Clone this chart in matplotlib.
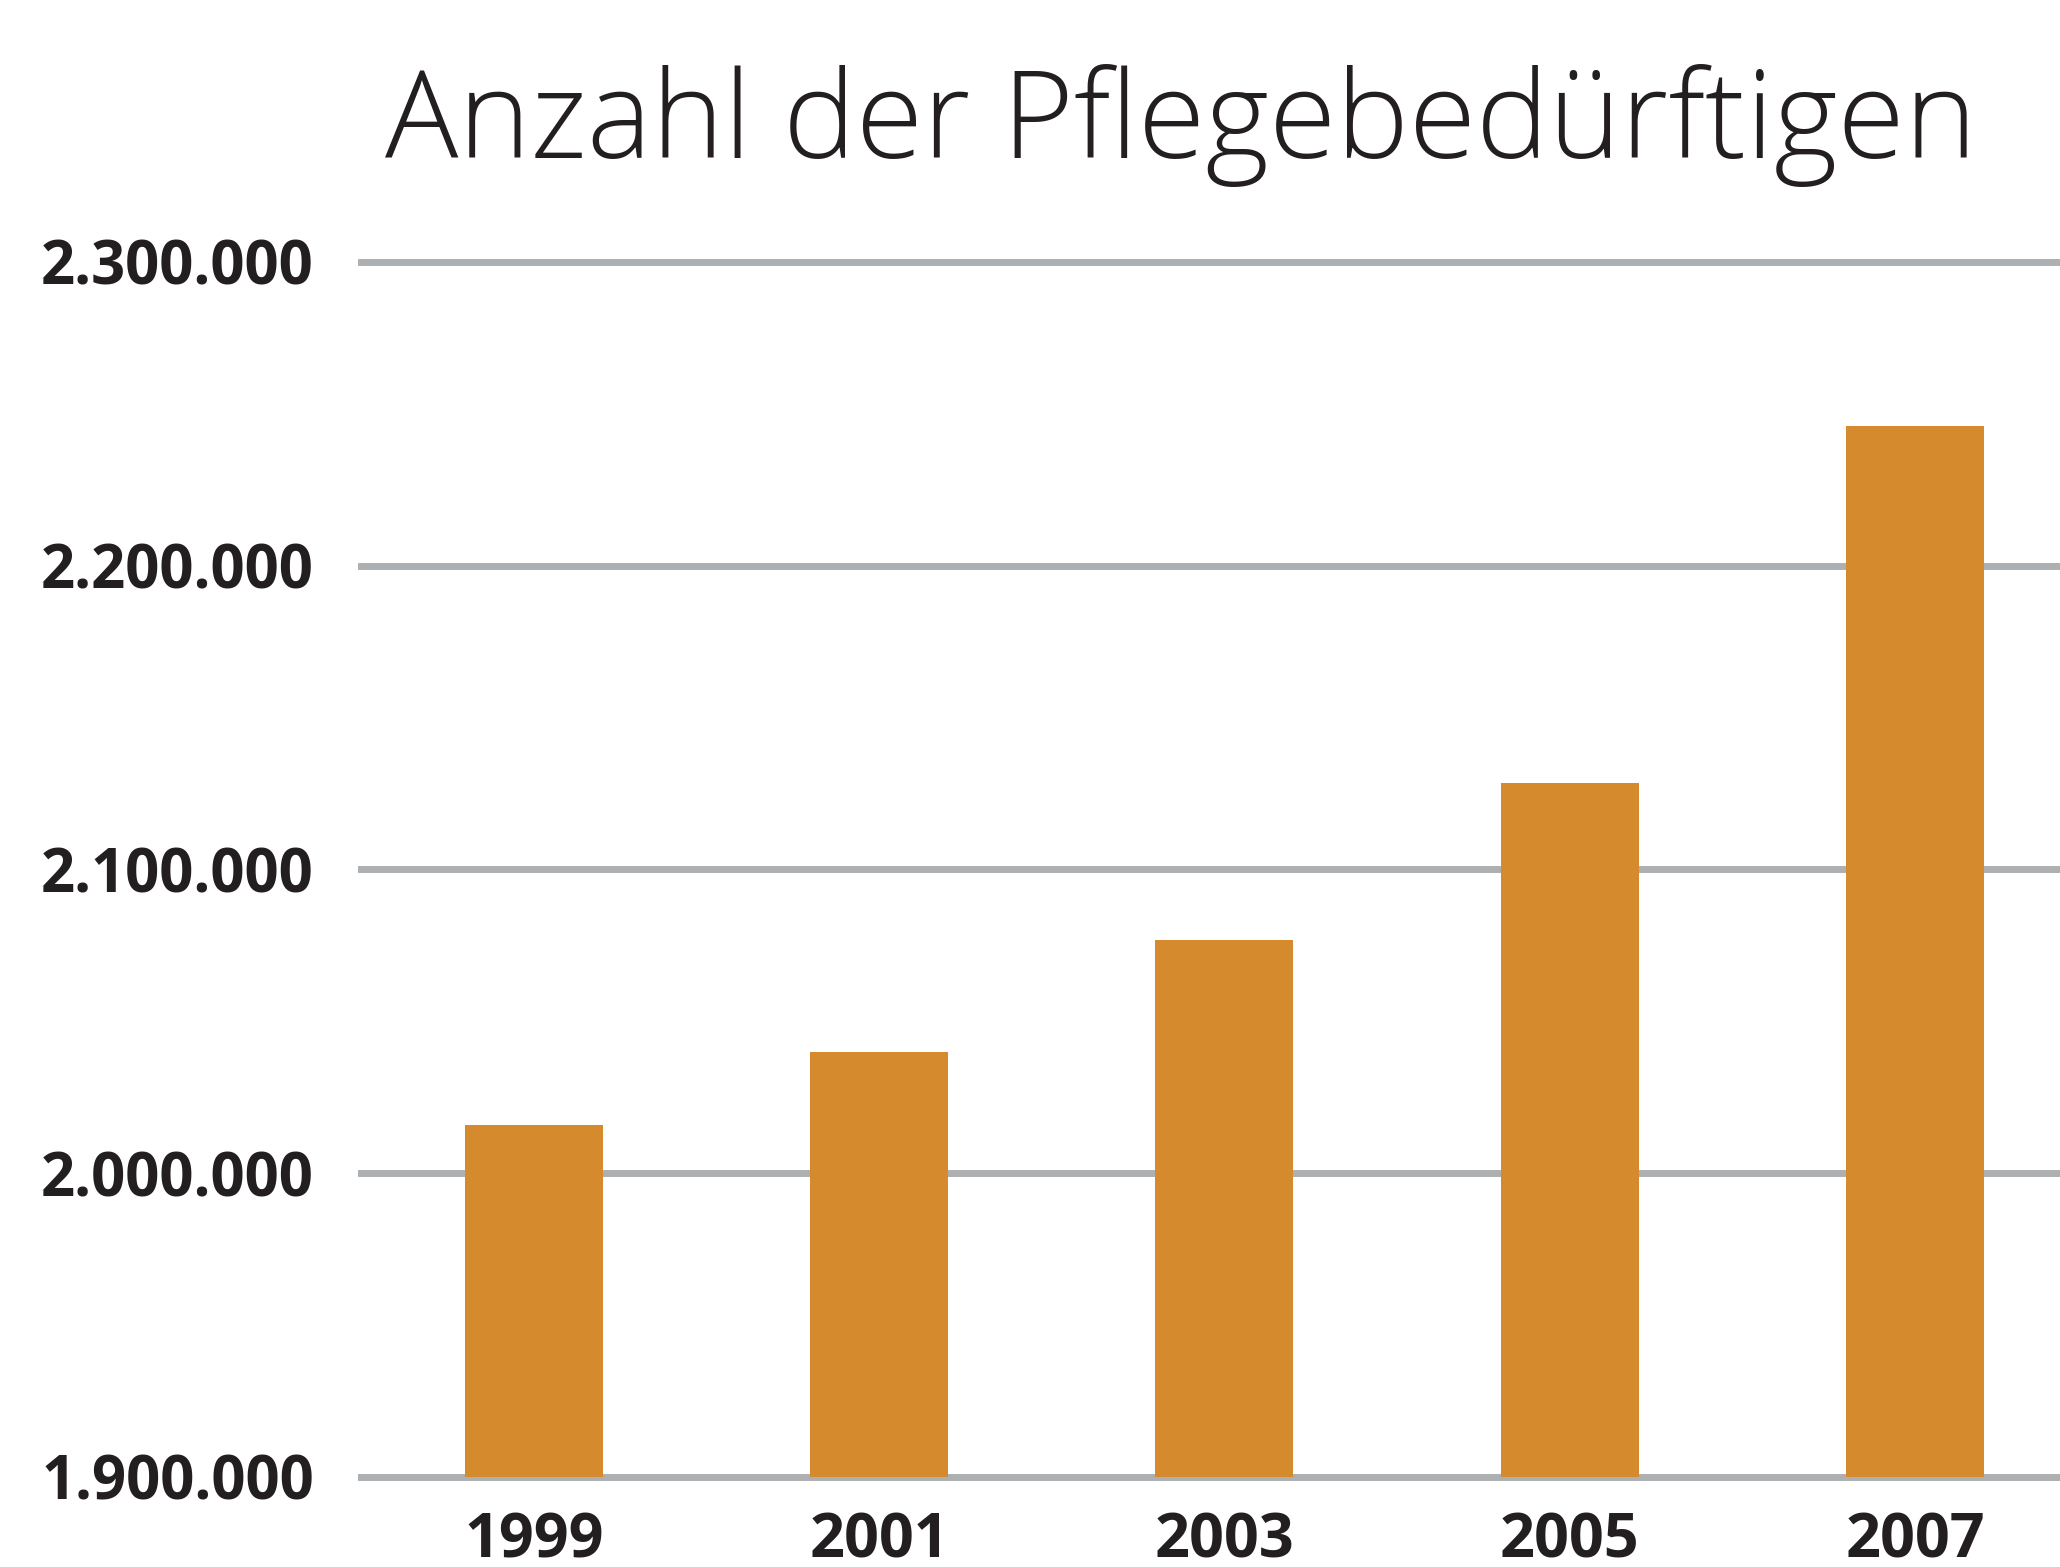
import os
import matplotlib
matplotlib.use("Agg")
import matplotlib.pyplot as plt
from matplotlib import font_manager as fm

# Pflegebedürftige in Deutschland
years = ["1999", "2001", "2003", "2005", "2007"]
counts = [2016000, 2039800, 2076900, 2128500, 2246000]
y_ticks = [1900000, 2000000, 2100000, 2200000, 2300000]
y_labels = ["1.900.000", "2.000.000", "2.100.000", "2.200.000", "2.300.000"]
title = "Anzahl der Pflegebedürftigen"

bar_color = "#D68A2E"
grid_color = "#ADB0B3"
text_color = "#231F20"


def pick_font(patterns):
    """return first font file whose basename matches one of the patterns"""
    files = fm.findSystemFonts()
    names = {os.path.basename(f).lower(): f for f in files}
    for p in patterns:
        for n, f in names.items():
            if p in n:
                return f
    return None


title_file = pick_font(["opensans-condensedlight", "opensanscondensed-light",
                        "notosans-condensedlight", "liberationsansnarrow-regular"])
tick_file = pick_font(["opensans-bold.", "opensans-bold"])

if title_file:
    title_font = fm.FontProperties(fname=title_file)
else:
    title_font = fm.FontProperties(family="Open Sans", weight="light")
if tick_file:
    tick_font = fm.FontProperties(fname=tick_file)
else:
    tick_font = fm.FontProperties(family="Open Sans", weight="bold")

W, H = 2060, 1567
fig = plt.figure(figsize=(W / 100, H / 100), dpi=100)
ax = fig.add_axes([361 / W, (H - 1477) / H, (W - 361) / W, (1477 - 262) / H])

x = list(range(len(years)))
ax.bar(x, counts, width=0.40, color=bar_color, zorder=3)
for v in y_ticks:
    ax.axhline(v, color=grid_color, lw=5, zorder=1, clip_on=False)

ax.set_ylim(y_ticks[0], y_ticks[-1])
ax.set_xlim(-0.5, 4.42)

ax.set_yticks(y_ticks)
ax.set_yticklabels(y_labels)
ax.set_xticks(x)
ax.set_xticklabels(years)
for lab in ax.get_yticklabels():
    lab.set_fontproperties(tick_font)
    lab.set_fontsize(43)
    lab.set_color(text_color)
    lab.set_va("center_baseline")
for lab in ax.get_xticklabels():
    lab.set_fontproperties(tick_font)
    lab.set_fontsize(44)
    lab.set_color(text_color)
ax.tick_params(axis="y", length=0, pad=34)
ax.tick_params(axis="x", length=0, pad=25)

for s in ax.spines.values():
    s.set_visible(False)

fig.text(1181 / W, 1 - 158 / H, title, fontproperties=title_font, fontsize=88,
         color=text_color, ha="center", va="baseline")

fig.savefig("out.png", dpi=100, facecolor="white")
